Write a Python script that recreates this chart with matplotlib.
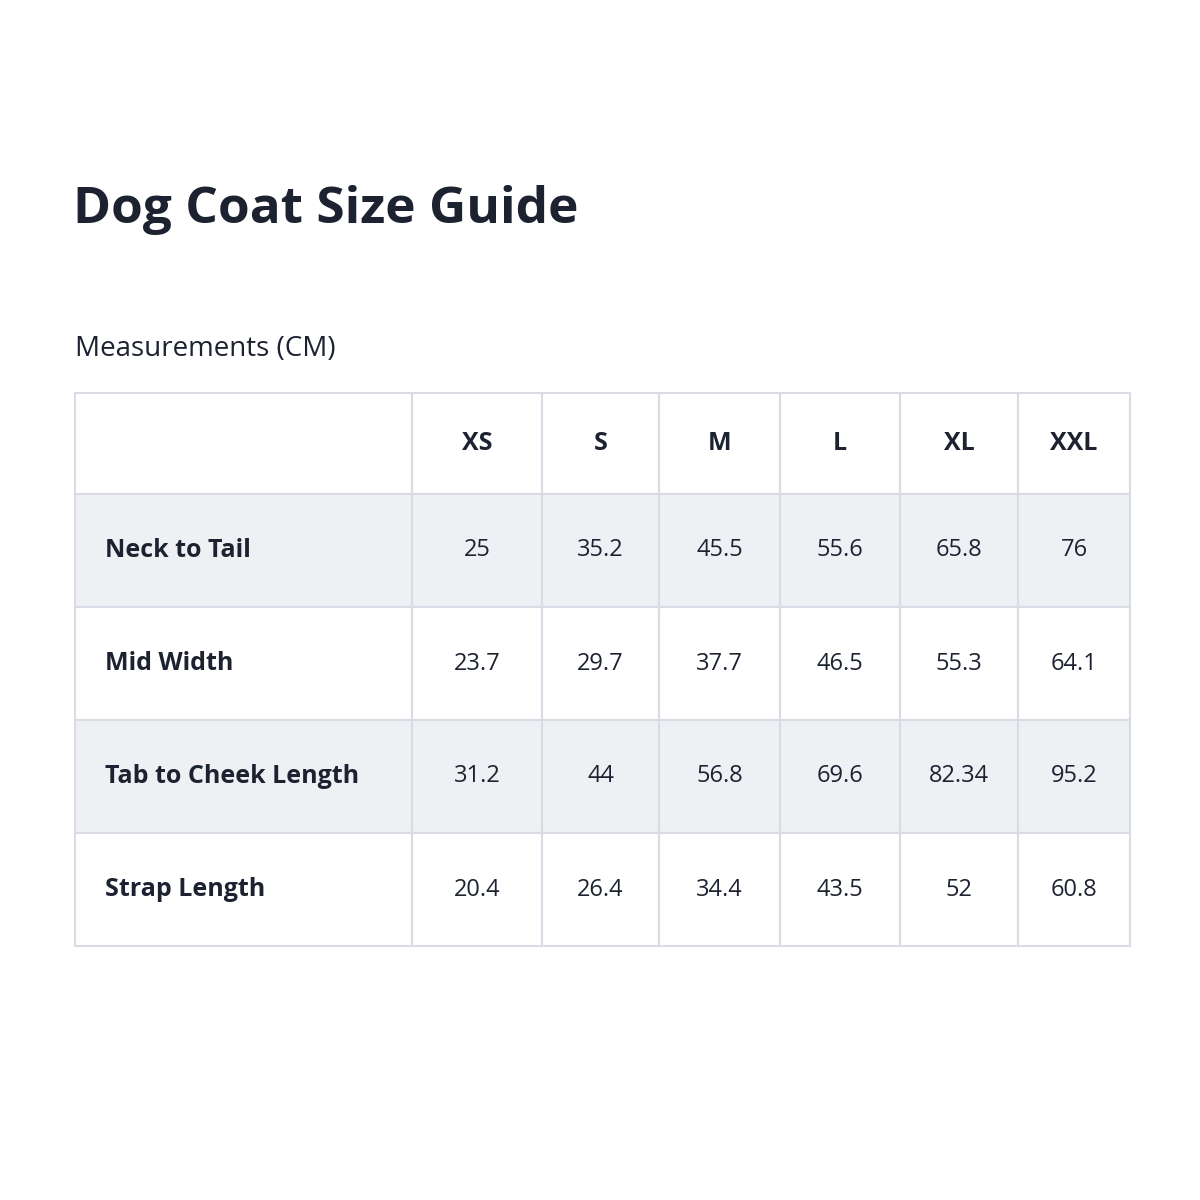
import matplotlib.pyplot as plt
from matplotlib.patches import Rectangle

plt.rcParams['font.family'] = ['Open Sans', 'DejaVu Sans']

title = 'Dog Coat Size Guide'
subtitle = 'Measurements (CM)'
sizes = ['XS', 'S', 'M', 'L', 'XL', 'XXL']
measures = ['Neck to Tail', 'Mid Width', 'Tab to Cheek Length', 'Strap Length']
values = [
    ['25', '35.2', '45.5', '55.6', '65.8', '76'],
    ['23.7', '29.7', '37.7', '46.5', '55.3', '64.1'],
    ['31.2', '44', '56.8', '69.6', '82.34', '95.2'],
    ['20.4', '26.4', '34.4', '43.5', '52', '60.8'],
]

# table geometry in pixels
col_edges = [75, 412, 542, 659, 780, 900, 1018, 1130]
row_edges = [393, 494, 607, 720, 833, 946]
text_col = '#1c2230'
shade = '#eef0f4'
line = '#d9dce4'

fig = plt.figure(figsize=(12, 12), dpi=100)
ax = fig.add_axes([0, 0, 1, 1])
ax.set_xlim(0, 1200)
ax.set_ylim(1200, 0)
ax.axis('off')

ax.text(73, 210, title, fontsize=37, fontweight='bold', color=text_col, va='center', ha='left')
ax.text(75, 349, subtitle, fontsize=20, color=text_col, va='center', ha='left')

for r in range(len(row_edges) - 1):
    y0, y1 = row_edges[r], row_edges[r + 1]
    fc = shade if r in (1, 3) else 'white'
    for c in range(len(col_edges) - 1):
        x0, x1 = col_edges[c], col_edges[c + 1]
        ax.add_patch(Rectangle((x0, y0), x1 - x0, y1 - y0, facecolor=fc,
                               edgecolor=line, linewidth=1.5))
    yc = (y0 + y1) / 2
    if r == 0:
        for c, s in enumerate(sizes):
            xc = (col_edges[c + 1] + col_edges[c + 2]) / 2
            ax.text(xc, yc, s, fontsize=18, fontweight='bold', color=text_col, ha='center', va='center')
    else:
        ax.text(105, yc, measures[r - 1], fontsize=18, fontweight='bold', color=text_col, ha='left', va='center')
        for c, v in enumerate(values[r - 1]):
            xc = (col_edges[c + 1] + col_edges[c + 2]) / 2
            ax.text(xc, yc, v, fontsize=17, color=text_col, ha='center', va='center')

fig.savefig('out.png', dpi=100, facecolor='white')
